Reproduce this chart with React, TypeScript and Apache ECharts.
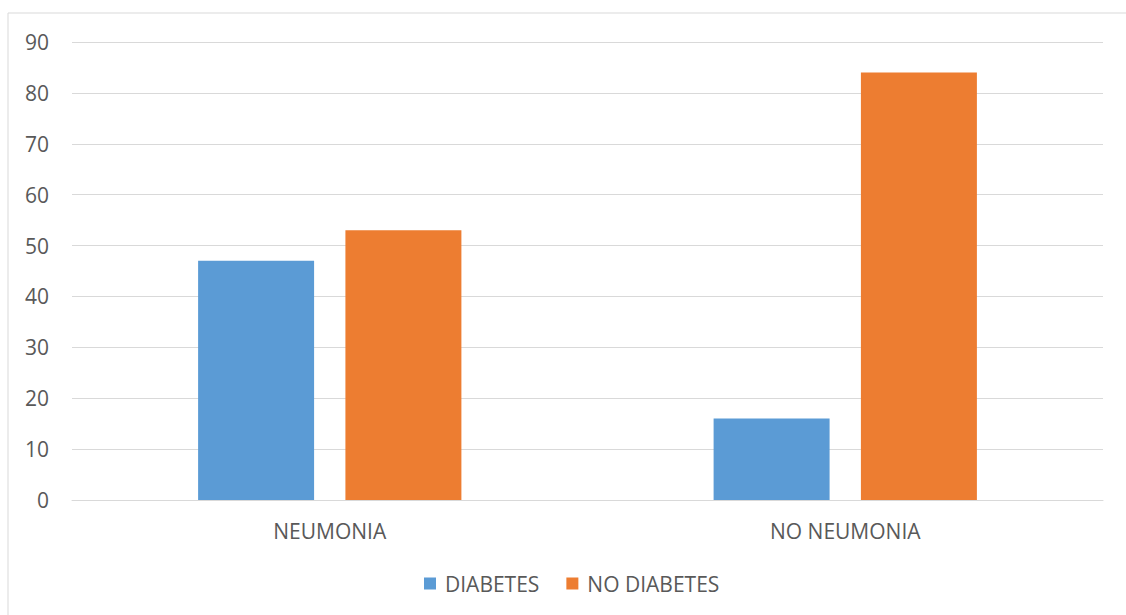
import React, { useEffect, useRef } from "react";
import * as echarts from "echarts";

const categories = ["NEUMONIA", "NO NEUMONIA"];
const diabetes = [47, 16];
const noDiabetes = [53, 84];
const seriesNames = ["DIABETES", "NO DIABETES"];

export default function App() {
  const ref = useRef<HTMLDivElement>(null);
  useEffect(() => {
    const chart = echarts.init(ref.current!, null, { renderer: "svg" });
    const font = "Open Sans, Noto Sans, sans-serif";
    const fs = 21;
    chart.setOption({
      animation: false,
      backgroundColor: "#ffffff",
      graphic: [
        {
          type: "rect",
          shape: { x: 8, y: 13, width: 1140, height: 640 },
          style: { fill: "none", stroke: "#D9D9D9", lineWidth: 1 },
          silent: true,
        },
      ],
      grid: { left: 72, right: 23, top: 42, bottom: 115 },
      legend: {
        top: 568,
        left: 419,
        itemWidth: 12,
        itemHeight: 12,
        itemGap: 27,
        icon: "rect",
        textStyle: { color: "#595959", fontSize: fs, fontFamily: font, padding: [0, 0, 0, 4] },
        data: seriesNames,
      },
      xAxis: {
        type: "category",
        data: categories,
        axisLine: { lineStyle: { color: "#D9D9D9", width: 1 } },
        axisTick: { show: false },
        axisLabel: { color: "#595959", fontSize: fs, fontFamily: font, margin: 20 },
      },
      yAxis: {
        type: "value",
        min: 0,
        max: 90,
        interval: 10,
        axisLine: { show: false },
        axisTick: { show: false },
        splitLine: { lineStyle: { color: "#D9D9D9", width: 1 } },
        axisLabel: { color: "#595959", fontSize: fs, fontFamily: font, margin: 23 },
      },
      series: [
        {
          name: seriesNames[0],
          type: "bar",
          data: diabetes,
          barWidth: "22.5%",
          barGap: "27%",
          itemStyle: { color: "#5B9BD5" },
        },
        {
          name: seriesNames[1],
          type: "bar",
          data: noDiabetes,
          barWidth: "22.5%",
          itemStyle: { color: "#ED7D31" },
        },
      ],
    });
    return () => chart.dispose();
  }, []);
  return (
    <div
      ref={ref}
      style={{ position: "absolute", left: 0, top: 0, width: 1126, height: 615 }}
    />
  );
}
